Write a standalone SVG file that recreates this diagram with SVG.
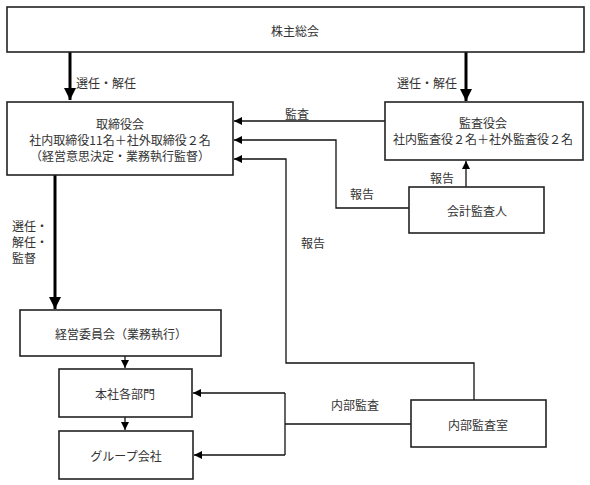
<svg xmlns="http://www.w3.org/2000/svg" width="590" height="485" viewBox="0 0 590 485">
<style>
.box{fill:#fff;stroke:#222;stroke-width:1.6}
.t{font-family:"Noto Sans CJK JP","Noto Sans",sans-serif;font-size:12px;fill:#333;text-anchor:middle;dominant-baseline:central}
.l{font-family:"Noto Sans CJK JP","Noto Sans",sans-serif;font-size:12px;fill:#333;dominant-baseline:central}
.thick{fill:none;stroke:#000;stroke-width:3}
.thin{fill:none;stroke:#111;stroke-width:1.3}
</style>
<defs>
<marker id="ah" viewBox="0 0 10 10" refX="10" refY="5" markerWidth="4" markerHeight="4" markerUnits="strokeWidth" orient="auto"><path d="M0,0L10,5L0,10z" fill="#000"/></marker>
<marker id="as" viewBox="0 0 10 10" refX="10" refY="5" markerWidth="8" markerHeight="8" markerUnits="userSpaceOnUse" orient="auto"><path d="M0,0L10,5L0,10z" fill="#000"/></marker>
</defs>
<g id="connectors">
<path class="thick" d="M70,52V100" marker-end="url(#ah)"/>
<path class="thick" d="M466,52V101" marker-end="url(#ah)"/>
<path class="thick" d="M55,175V309" marker-end="url(#ah)"/>
<path class="thin" d="M385,121H234" marker-end="url(#as)"/>
<path class="thin" d="M466,187V161" marker-end="url(#as)"/>
<path class="thin" d="M409,208H336V140H234" marker-end="url(#as)"/>
<path class="thin" d="M474,400V363H286V159H234" marker-end="url(#as)"/>
<path class="thin" d="M125,356V368" marker-end="url(#as)"/>
<path class="thin" d="M125,417V430" marker-end="url(#as)"/>
<path class="thin" d="M411,424H285"/>
<path class="thin" d="M285,393V455"/>
<path class="thin" d="M285,393H193" marker-end="url(#as)"/>
<path class="thin" d="M285,455H194" marker-end="url(#as)"/>
<text class="l" x="76" y="82">選任・解任</text>
<text class="l" x="397" y="82">選任・解任</text>
<text class="l" x="285" y="113">監査</text>
<text class="l" x="430" y="177">報告</text>
<text class="l" x="350" y="193">報告</text>
<text class="l" x="301" y="242">報告</text>
<text class="l" x="12" y="225">選任・</text>
<text class="l" x="12" y="241">解任・</text>
<text class="l" x="12" y="257">監督</text>
<text class="l" x="331" y="404">内部監査</text>
</g>
<g id="shareholders"><rect class="box" x="7" y="7" width="577" height="45"/><text class="t" x="295" y="30">株主総会</text></g>
<g id="board"><rect class="box" x="7" y="102" width="226" height="73"/><text class="t" x="120" y="123">取締役会</text><text class="t" x="120" y="139">社内取締役11名＋社外取締役２名</text><text class="t" x="120" y="155">（経営意思決定・業務執行監督）</text></g>
<g id="auditboard"><rect class="box" x="385" y="102" width="198" height="58"/><text class="t" x="483" y="122">監査役会</text><text class="t" x="483" y="138">社内監査役２名＋社外監査役２名</text></g>
<g id="accountant"><rect class="box" x="409" y="187" width="135" height="46"/><text class="t" x="477" y="210">会計監査人</text></g>
<g id="management"><rect class="box" x="20" y="310" width="201" height="46"/><text class="t" x="121" y="333">経営委員会（業務執行）</text></g>
<g id="hq"><rect class="box" x="59" y="369" width="133" height="48"/><text class="t" x="125" y="393">本社各部門</text></g>
<g id="group"><rect class="box" x="59" y="431" width="134" height="48"/><text class="t" x="126" y="455">グループ会社</text></g>
<g id="internalaudit"><rect class="box" x="411" y="400" width="135" height="47"/><text class="t" x="478" y="424">内部監査室</text></g>
</svg>
